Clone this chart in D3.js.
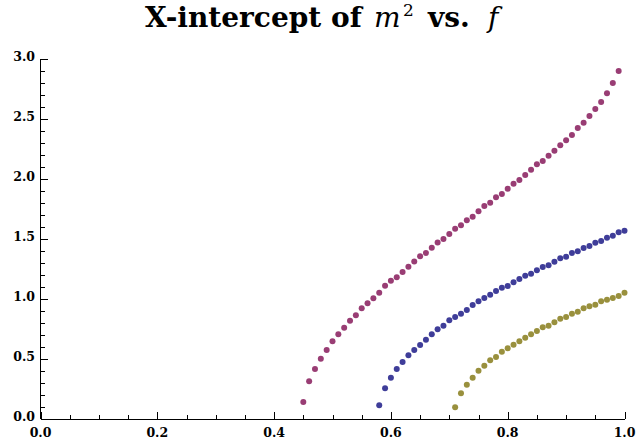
<!DOCTYPE html>
<html><head><meta charset="utf-8">
<script src="https://cdn.jsdelivr.net/npm/d3@7"></script>
<style>body{margin:0;background:#fff}svg{display:block}</style>
</head><body>
<script>
const magentaX = d3.range(45, 100).map(i => i / 100);
const magentaY = [0.142,0.314,0.417,0.503,0.575,0.647,0.706,0.761,0.819,0.864,0.922,0.964,1.007,1.052,1.110,1.153,1.182,1.225,1.269,1.312,1.356,1.383,1.428,1.470,1.500,1.542,1.586,1.615,1.656,1.686,1.731,1.775,1.803,1.847,1.876,1.919,1.961,1.992,2.033,2.078,2.122,2.150,2.194,2.236,2.281,2.322,2.367,2.425,2.469,2.525,2.583,2.642,2.714,2.800,2.900];
const blueX = d3.range(58, 101).map(i => i / 100);
const blueY = [0.114,0.256,0.344,0.417,0.475,0.531,0.575,0.617,0.661,0.706,0.747,0.778,0.822,0.850,0.878,0.908,0.950,0.981,1.008,1.036,1.067,1.094,1.108,1.139,1.167,1.194,1.211,1.239,1.267,1.281,1.311,1.339,1.353,1.383,1.397,1.425,1.442,1.469,1.483,1.511,1.528,1.556,1.569];
const goldX = d3.range(71, 101).map(i => i / 100);
const goldY = [0.097,0.214,0.286,0.344,0.403,0.444,0.489,0.517,0.561,0.589,0.619,0.647,0.678,0.706,0.733,0.764,0.778,0.806,0.836,0.850,0.878,0.894,0.922,0.939,0.953,0.981,0.994,1.008,1.025,1.053];
const xMajorTicks = [0, 0.2, 0.4, 0.6, 0.8, 1.0];
const yMajorTicks = [0, 0.5, 1.0, 1.5, 2.0, 2.5, 3.0];
const seriesColors = ["#993d74", "#3f3d99", "#99903d"];

const W = 636, H = 446;
const svg = d3.select("body").append("svg").attr("width", W).attr("height", H);
const x = d3.scaleLinear().domain([0, 1]).range([40.5, 624.5]);
const y = d3.scaleLinear().domain([0, 3]).range([419, 59]);

const font = "'DejaVu Serif', serif";

// title
const title = svg.append("text").attr("y", 27)
  .style("font-family", font).style("font-size", "28px").style("font-weight", "bold").attr("fill", "#000");
title.append("tspan").attr("x", 145).text("X-intercept of");
title.append("tspan").attr("x", 374).text("m").style("font-style", "italic").style("font-weight", "normal");
title.append("tspan").attr("x", 403).attr("dy", -11).text("2").style("font-size", "17px").style("font-weight", "normal");
title.append("tspan").attr("x", 428).attr("dy", 11).text("vs.");
title.append("tspan").attr("x", 488).text("f").style("font-style", "italic").style("font-weight", "normal");

// axes
const ax = svg.append("g").attr("stroke", "#000").attr("stroke-width", 1).attr("shape-rendering", "crispEdges");
ax.append("line").attr("x1", x(0)).attr("x2", x(1)).attr("y1", y(0) + 0.5).attr("y2", y(0) + 0.5);
ax.append("line").attr("x1", x(0)).attr("x2", x(0)).attr("y1", y(0)).attr("y2", y(3));

const xMinor = d3.range(0, 21).map(i => i * 0.05);
ax.selectAll(".xt").data(xMinor).join("line")
  .attr("x1", d => Math.round(x(d)) + 0.5).attr("x2", d => Math.round(x(d)) + 0.5)
  .attr("y1", y(0)).attr("y2", (d, i) => y(0) - (i % 4 === 0 ? 7 : 4));
const yMinor = d3.range(0, 31).map(i => i * 0.1);
ax.selectAll(".yt").data(yMinor).join("line")
  .attr("y1", d => Math.round(y(d)) + 0.5).attr("y2", d => Math.round(y(d)) + 0.5)
  .attr("x1", x(0)).attr("x2", (d, i) => x(0) + (i % 5 === 0 ? 7 : 4));

svg.append("g").selectAll("text").data(xMajorTicks).join("text")
  .attr("x", d => x(d)).attr("y", 437).attr("text-anchor", "middle")
  .style("font-family", font).style("font-size", "12.5px").style("font-weight", "bold")
  .text(d => d3.format(".1f")(d));
svg.append("g").selectAll("text").data(yMajorTicks).join("text")
  .attr("x", 35).attr("y", d => y(d) + 1.5).attr("text-anchor", "end")
  .style("font-family", font).style("font-size", "12.5px").style("font-weight", "bold")
  .text(d => d3.format(".1f")(d));

// points
const series = [
  {xs: magentaX, ys: magentaY},
  {xs: blueX, ys: blueY},
  {xs: goldX, ys: goldY}
];
series.forEach((s, k) => {
  svg.append("g").attr("fill", seriesColors[k]).selectAll("circle")
    .data(s.ys.map((v, i) => [s.xs[i], v])).join("circle")
    .attr("cx", d => x(d[0])).attr("cy", d => y(d[1])).attr("r", 3);
});
</script>
</body></html>
